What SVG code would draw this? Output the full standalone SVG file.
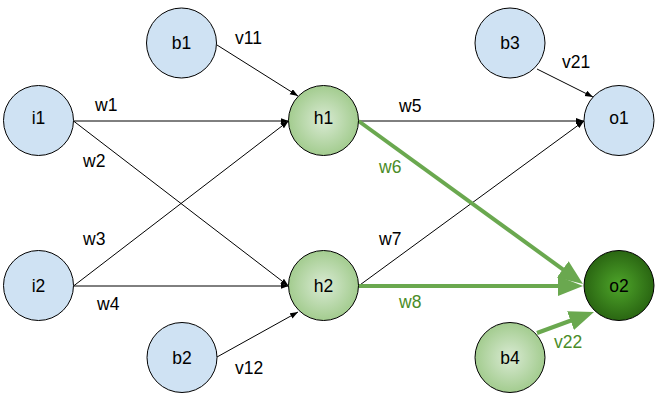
<svg xmlns="http://www.w3.org/2000/svg" width="668" height="401" viewBox="0 0 668 401">
<style>
.node{stroke:#000;stroke-width:1}
.blue{fill:#cfe2f3}
.lg{fill:url(#gLight)}
.dg{fill:url(#gDark)}
text{font-family:"Liberation Sans",Arial,sans-serif;font-size:17.5px;fill:#000}
.lbl{text-anchor:middle}
.gt{fill:#4a8c28}
.e{stroke:#000;stroke-width:1;fill:none;marker-end:url(#ab)}
.g{stroke:#6aa84f;stroke-width:4;fill:none;marker-end:url(#ag)}
</style>
<defs>
<radialGradient id="gLight" cx="0.5" cy="0.5" r="0.5">
<stop offset="0" stop-color="#d9ead3"/>
<stop offset="1" stop-color="#a3cc8f"/>
</radialGradient>
<radialGradient id="gDark" cx="0.5" cy="0.5" r="0.5">
<stop offset="0" stop-color="#4ea52a"/>
<stop offset="1" stop-color="#2a6612"/>
</radialGradient>
<marker id="ab" markerUnits="userSpaceOnUse" markerWidth="9" markerHeight="7" refX="8" refY="3" orient="auto">
<path d="M0,0 L8,3 L0,6 z" fill="#000"/>
</marker>
<marker id="ag" markerUnits="userSpaceOnUse" markerWidth="26" markerHeight="21" refX="15" refY="10" orient="auto">
<path d="M0,0 L25,10 L0,20 z" fill="#6aa84f"/>
</marker>
</defs>
<g id="connectors">
<path class="e" d="M73.5,121 L288.5,121"/>
<path class="e" d="M73.5,121 L288.5,286"/>
<path class="e" d="M73.5,286 L288.5,121"/>
<path class="e" d="M73.5,286 L288.5,286"/>
<path class="e" d="M217,45 L298,96"/>
<path class="e" d="M217,357 L298,312"/>
<path class="e" d="M358.5,121 L584,121"/>
<path class="e" d="M358.5,286 L584,121"/>
<path class="e" d="M537,69 L593,97"/>
<path class="g" d="M358.5,121 L574.9,278.1"/>
<path class="g" d="M358.5,286 L573,286"/>
<path class="g" d="M537,333 L584.6,315.5"/>
</g>
<g id="edge-labels">
<text x="95" y="111">w1</text>
<text x="83" y="167">w2</text>
<text x="83" y="245">w3</text>
<text x="97" y="310">w4</text>
<text x="235" y="44">v11</text>
<text x="235" y="374">v12</text>
<text x="399" y="112">w5</text>
<text class="gt" x="379" y="173">w6</text>
<text x="379" y="245">w7</text>
<text class="gt" x="399" y="308">w8</text>
<text x="562" y="68">v21</text>
<text class="gt" x="554" y="348">v22</text>
</g>
<g id="node-i1"><circle class="node blue" cx="38.5" cy="120.5" r="35"/><text class="lbl" x="38.5" y="124">i1</text></g>
<g id="node-i2"><circle class="node blue" cx="38.5" cy="285.5" r="35"/><text class="lbl" x="38.5" y="292">i2</text></g>
<g id="node-b1"><circle class="node blue" cx="181.5" cy="43" r="35"/><text class="lbl" x="181.5" y="49">b1</text></g>
<g id="node-b2"><circle class="node blue" cx="182" cy="357.5" r="35"/><text class="lbl" x="182" y="364">b2</text></g>
<g id="node-h1"><circle class="node lg" cx="323.5" cy="120.5" r="35"/><text class="lbl" x="323.5" y="124">h1</text></g>
<g id="node-h2"><circle class="node lg" cx="323.5" cy="285.5" r="35"/><text class="lbl" x="323.5" y="292">h2</text></g>
<g id="node-b3"><circle class="node blue" cx="510" cy="43" r="35"/><text class="lbl" x="510" y="49">b3</text></g>
<g id="node-o1"><circle class="node blue" cx="619" cy="120.5" r="35"/><text class="lbl" x="619" y="124">o1</text></g>
<g id="node-o2"><circle class="node dg" cx="619" cy="285.5" r="35"/><text class="lbl" x="619" y="292">o2</text></g>
<g id="node-b4"><circle class="node lg" cx="510" cy="357.5" r="35"/><text class="lbl" x="510" y="364">b4</text></g>
</svg>
